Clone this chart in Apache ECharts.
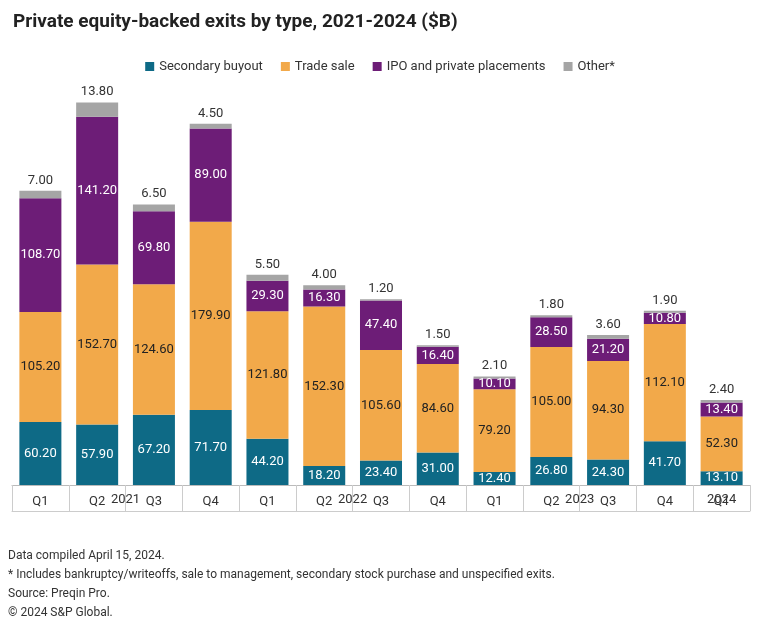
<!DOCTYPE html>
<html><head><meta charset="utf-8">
<script src="https://cdn.jsdelivr.net/npm/echarts@6/dist/echarts.min.js"></script>
<style>html,body{margin:0;background:#fff}#c{width:760px;height:633px}</style>
</head><body><div id="c"></div>
<script>
var quarters = ['Q1','Q2','Q3','Q4','Q1','Q2','Q3','Q4','Q1','Q2','Q3','Q4','Q1'];
var secondary = [60.2,57.9,67.2,71.7,44.2,18.2,23.4,31.0,12.4,26.8,24.3,41.7,13.1];
var tradeSale = [105.2,152.7,124.6,179.9,121.8,152.3,105.6,84.6,79.2,105.0,94.3,112.1,52.3];
var ipo = [108.7,141.2,69.8,89.0,29.3,16.3,47.4,16.4,10.1,28.5,21.2,10.8,13.4];
var other = [7.0,13.8,6.5,4.5,5.5,4.0,1.2,1.5,2.1,1.8,3.6,1.9,2.4];
var years = {4:'2021',12:'2022',20:'2023',25:'2024'};
var yearBounds = [0,8,16,24,26];

var yearSlots = [];
for (var k = 0; k <= 26; k++) yearSlots.push(years[k] || '');

var chart = echarts.init(document.getElementById('c'));
var fmt = function(p){ return p.value.toFixed(2); };
function seg(name, data, color, txt) {
  return {name:name, type:'bar', stack:'a', data:data, barWidth:'74%',
    itemStyle:{color:color},
    label:{show:true, position:'inside', color:txt, fontSize:13, fontFamily:'Roboto', formatter:fmt}};
}
chart.setOption({
  animation:false,
  textStyle:{fontFamily:'Roboto'},
  title:{text:'Private equity-backed exits by type, 2021-2024 ($B)', left:8, top:8,
    textStyle:{fontSize:19, fontWeight:'bold', color:'#222'}},
  legend:{top:55, left:'center', itemWidth:9, itemHeight:9, itemGap:18, icon:'rect',
    textStyle:{fontSize:13, color:'#333'}},
  grid:{left:12, right:10, top:102, bottom:148},
  xAxis:[
    {type:'category', data:quarters, position:'bottom',
      axisLine:{lineStyle:{color:'#bbb'}},
      axisTick:{show:true, length:26, lineStyle:{color:'#ccc'}},
      axisLabel:{color:'#333', fontSize:13, margin:10}},
    {type:'category', data:yearSlots, position:'bottom', offset:26, boundaryGap:false,
      axisLine:{lineStyle:{color:'#ccc'}},
      axisTick:{show:true, length:-26, interval:function(i){return yearBounds.indexOf(i)>=0;}, lineStyle:{color:'#ccc'}},
      axisLabel:{color:'#333', fontSize:13, margin:-18, interval:function(i){return !!years[i];}}}
  ],
  yAxis:{type:'value', min:0, max:366, show:false},
  series:[
    seg('Secondary buyout', secondary, '#0e6a86', '#fff'),
    seg('Trade sale', tradeSale, '#f2a94a', '#222'),
    seg('IPO and private placements', ipo, '#6d1d77', '#fff'),
    {name:'Other*', type:'bar', stack:'a', data:other, barWidth:'74%', itemStyle:{color:'#a5a5a5'},
      label:{show:true, position:'top', color:'#333', fontSize:13, distance:4, formatter:fmt}}
  ],
  graphic:[
    {type:'text', left:8, top:550, style:{text:'Data compiled April 15, 2024.', fontSize:12, fill:'#333', fontFamily:'Roboto'}},
    {type:'text', left:8, top:569, style:{text:'* Includes bankruptcy/writeoffs, sale to management, secondary stock purchase and unspecified exits.', fontSize:12, fill:'#333', fontFamily:'Roboto'}},
    {type:'text', left:8, top:588, style:{text:'Source: Preqin Pro.', fontSize:12, fill:'#333', fontFamily:'Roboto'}},
    {type:'text', left:8, top:607, style:{text:'© 2024 S&P Global.', fontSize:12, fill:'#333', fontFamily:'Roboto'}}
  ]
});
</script></body></html>
